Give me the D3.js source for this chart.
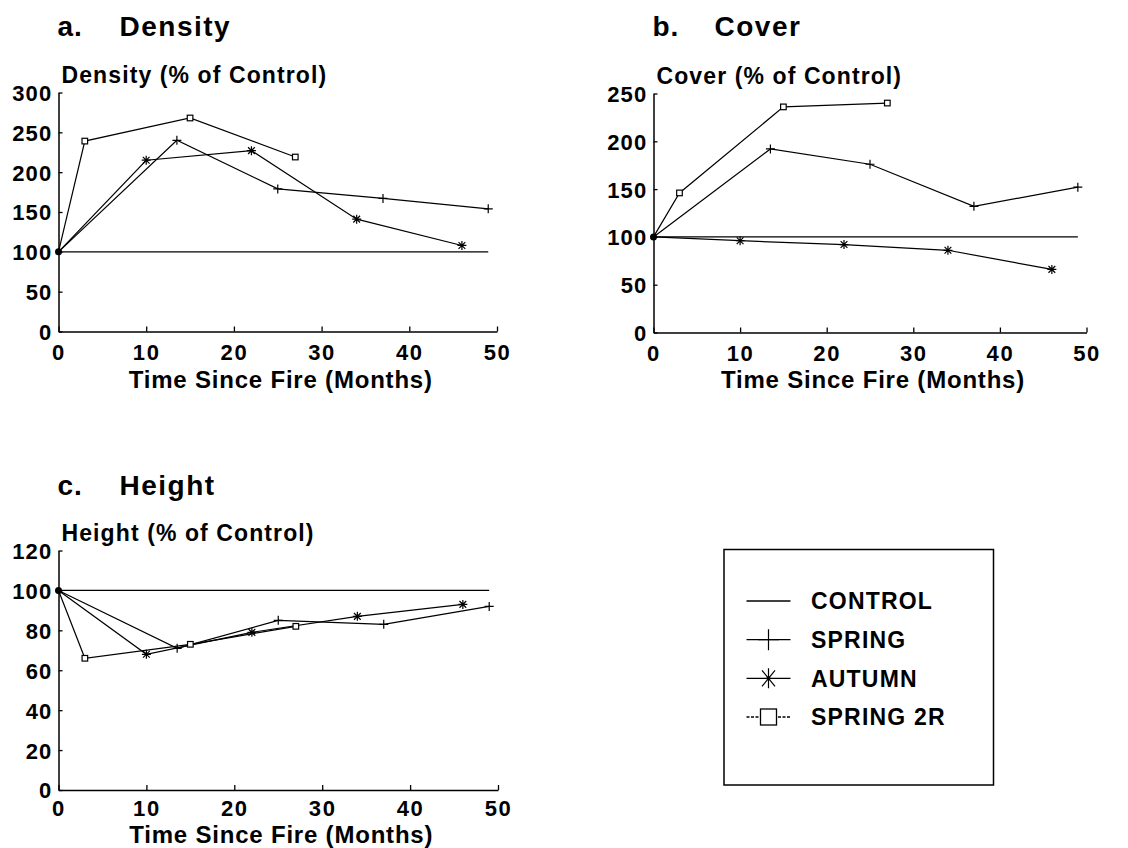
<!DOCTYPE html>
<html><head><meta charset="utf-8">
<script src="https://cdn.jsdelivr.net/npm/d3@7"></script>
<style>
body{margin:0;background:#fff}
svg text{font-family:"Liberation Sans",Arial,Helvetica,sans-serif;fill:#000;font-weight:bold}
</style>
</head><body>
<svg id="chart" width="1128" height="848"></svg>
<script>
// ---- data ----
const controlMonths = [0, 49];
const springMonths = [0, 13.5, 25, 37, 49];
const autumnMonths = [0, 10, 22, 34, 46];
const spring2rMonths = [0, 3, 15, 27];

const densityControl = [100, 100];
const densitySpring = [100, 240, 179, 167, 154];
const densityAutumn = [100, 215, 227, 141, 108];
const densitySpring2r = [100, 239, 268, 219];

const coverControl = [100, 100];
const coverSpring = [100, 192, 176, 132, 152];
const coverAutumn = [100, 96, 92, 86, 66];
const coverSpring2r = [100, 146, 236, 240];

const heightControl = [100, 100];
const heightSpring = [100, 71, 85, 83, 92];
const heightAutumn = [100, 68, 79, 87, 93];
const heightSpring2r = [100, 66, 73, 82];

const xTicks = [0, 10, 20, 30, 40, 50];
const densityTicks = [0, 50, 100, 150, 200, 250, 300];
const coverTicks = [0, 50, 100, 150, 200, 250];
const heightTicks = [0, 20, 40, 60, 80, 100, 120];

const seriesNames = ["CONTROL", "SPRING", "AUTUMN", "SPRING 2R"];
const panelLetters = ["a.", "b.", "c."];
const panelTitles = ["Density", "Cover", "Height"];
const yLabels = ["Density (% of Control)", "Cover (% of Control)", "Height (% of Control)"];
const xLabel = "Time Since Fire (Months)";

// ---- layout ----
const svg = d3.select("#chart");
const panels = [
  {letter: panelLetters[0], title: panelTitles[0], ylabel: yLabels[0], ticks: densityTicks,
   series: [densityControl, densitySpring, densityAutumn, densitySpring2r],
   x0: 58.5, x1: 497, y0: 331.5, y1: 92.5, titleY: 36, xLabY: 388, xTickY: 28},
  {letter: panelLetters[1], title: panelTitles[1], ylabel: yLabels[1], ticks: coverTicks,
   series: [coverControl, coverSpring, coverAutumn, coverSpring2r],
   x0: 653.5, x1: 1086.5, y0: 332.5, y1: 93.5, titleY: 36, xLabY: 388, xTickY: 28},
  {letter: panelLetters[2], title: panelTitles[2], ylabel: yLabels[2], ticks: heightTicks,
   series: [heightControl, heightSpring, heightAutumn, heightSpring2r],
   x0: 58.5, x1: 498, y0: 790, y1: 550.5, titleY: 495, xLabY: 843, xTickY: 26}
];
const monthsBySeries = [controlMonths, springMonths, autumnMonths, spring2rMonths];

function marker(g, type, x, y, s) {
  if (type === 1) {
    g.append("path").attr("d", `M${x - s},${y}H${x + s}M${x},${y - s}V${y + s}`)
      .attr("stroke", "#000").attr("stroke-width", 1.2).attr("fill", "none");
  } else if (type === 2) {
    const d = s * 0.75;
    g.append("path").attr("d", `M${x},${y - s}V${y + s}M${x - d},${y - d}L${x + d},${y + d}M${x - d},${y + d}L${x + d},${y - d}M${x - s},${y}H${x + s}`)
      .attr("stroke", "#000").attr("stroke-width", 1.2).attr("fill", "none");
  } else if (type === 3) {
    g.append("rect").attr("x", x - s * 0.8).attr("y", y - s * 0.8).attr("width", s * 1.6).attr("height", s * 1.6)
      .attr("stroke", "#000").attr("stroke-width", 1.2).attr("fill", "#fff");
  }
}

panels.forEach(p => {
  const g = svg.append("g");
  const x = d3.scaleLinear().domain([0, 50]).range([p.x0, p.x1]);
  const yMax = p.ticks[p.ticks.length - 1];
  const y = d3.scaleLinear().domain([0, yMax]).range([p.y0, p.y1]);

  // titles
  g.append("text").attr("x", p.x0 - 1).attr("y", p.titleY).attr("font-size", 28).attr("letter-spacing", 1).text(p.letter);
  g.append("text").attr("x", p.x0 + 61).attr("y", p.titleY).attr("font-size", 28).attr("letter-spacing", 1.5).text(p.title);
  g.append("text").attr("x", p.x0 + 3).attr("y", p.y1 - 10).attr("font-size", 23).attr("letter-spacing", 1.1).text(p.ylabel);

  // axes
  const xAxis = d3.axisBottom(x).tickValues(xTicks).tickSizeInner(-5).tickSizeOuter(0).tickPadding(0).tickFormat(d3.format("d"));
  const gx = g.append("g").attr("transform", `translate(0,${p.y0})`).call(xAxis);
  gx.select(".domain").attr("stroke", "#000").attr("stroke-width", 1.5);
  gx.selectAll(".tick line").attr("stroke", "#000").attr("stroke-width", 1.3);
  gx.selectAll(".tick text").attr("y", p.xTickY).attr("dy", 0).attr("font-size", 22).attr("letter-spacing", 1.6);

  const yAxis = d3.axisLeft(y).tickValues(p.ticks).tickSizeInner(-4).tickSizeOuter(0).tickPadding(0);
  const gy = g.append("g").attr("transform", `translate(${p.x0},0)`).call(yAxis);
  gy.select(".domain").attr("stroke", "#000").attr("stroke-width", 1.5);
  gy.selectAll(".tick line").attr("stroke", "#000").attr("stroke-width", 1.3);
  gy.selectAll(".tick text").attr("x", -6).attr("dy", "0.36em").attr("font-size", 22).attr("letter-spacing", 1.2);
  g.selectAll(".tick text").style("font-family", "'Liberation Sans',Arial,sans-serif").style("font-weight", "bold");

  // x label
  g.append("text").attr("x", (p.x0 + p.x1) / 2 + 3).attr("y", p.xLabY).attr("text-anchor", "middle")
    .attr("font-size", 24).attr("letter-spacing", 0.8).text(xLabel);

  // series lines
  const line = d3.line().x(d => x(d[0])).y(d => y(d[1]));
  p.series.forEach((vals, si) => {
    const pts = monthsBySeries[si].map((m, i) => [m, vals[i]]);
    g.append("path").datum(pts).attr("d", line).attr("fill", "none").attr("stroke", "#000").attr("stroke-width", 1.2);
  });
  p.series.forEach((vals, si) => {
    if (si === 0) return;
    monthsBySeries[si].forEach((m, i) => {
      if (i === 0) return;
      marker(g, si, x(m), y(vals[i]), si === 3 ? 3.5 : 4.5);
    });
  });
  // origin blob where all series start
  g.append("circle").attr("cx", x(controlMonths[0])).attr("cy", y(p.series[0][0])).attr("r", 3.5).attr("fill", "#000");
});

// legend
const lg = svg.append("g");
lg.append("rect").attr("x", 724).attr("y", 549.5).attr("width", 269.5).attr("height", 235.5)
  .attr("fill", "none").attr("stroke", "#000").attr("stroke-width", 1.5);
const legendY = d3.scalePoint().domain(seriesNames).range([601, 717]);
seriesNames.forEach((name, i) => {
  const yy = legendY(name);
  const ln = lg.append("line").attr("x1", 746.5).attr("x2", 790.5).attr("y1", yy).attr("y2", yy)
    .attr("stroke", "#000").attr("stroke-width", 1.3);
  if (i === 3) ln.attr("stroke-dasharray", "3,1.5");
  if (i === 1) marker(lg, 1, 768.5, yy, 10.5);
  if (i === 2) {
    lg.append("path").attr("d", `M768.5,${yy - 10}V${yy + 10}M762,${yy - 8}L775,${yy + 8}M762,${yy + 8}L775,${yy - 8}`)
      .attr("stroke", "#000").attr("stroke-width", 1.2).attr("fill", "none");
    lg.append("circle").attr("cx", 768.5).attr("cy", yy).attr("r", 2).attr("fill", "#000");
  }
  if (i === 3) {
    lg.append("rect").attr("x", 760.5).attr("y", yy - 8).attr("width", 16).attr("height", 16)
      .attr("fill", "#fff").attr("stroke", "#000").attr("stroke-width", 1.3);
  }
  lg.append("text").attr("x", 811).attr("y", yy).attr("dy", "0.36em").attr("font-size", 23)
    .attr("letter-spacing", 1.2).text(name);
});
</script>
</body></html>
